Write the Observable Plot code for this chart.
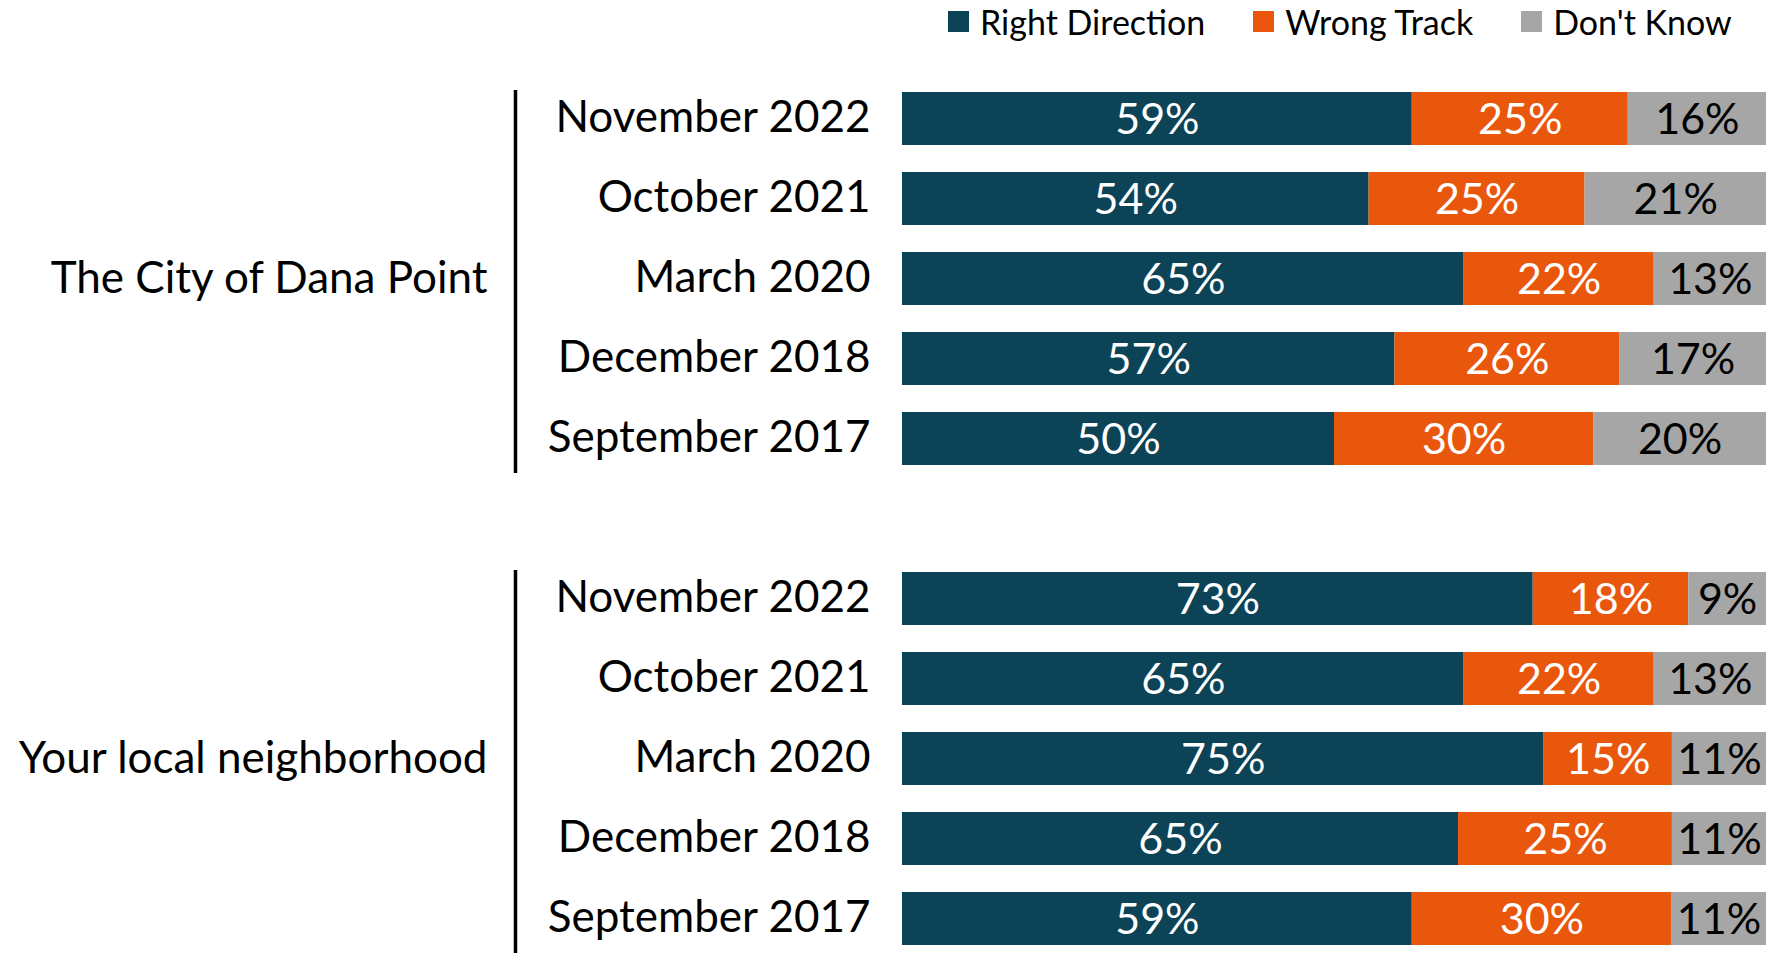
<!DOCTYPE html>
<html>
<head>
<meta charset="utf-8">
<script src="https://cdn.jsdelivr.net/npm/d3@7"></script>
<script src="https://cdn.jsdelivr.net/npm/@observablehq/plot@0.6"></script>
<style>
  html, body { margin: 0; padding: 0; background: #fff; overflow: hidden; }
  #legend { height: 46px; display: flex; align-items: center; padding-left: 948px; padding-bottom: 4px; box-sizing: border-box;
            font-family: Lato, "Liberation Sans", sans-serif; font-size: 34px; color: #000; white-space: nowrap; }
  #legend .item { display: flex; align-items: center; margin-right: 48px; flex-shrink: 0; }
  #legend .item:last-child { margin-right: 0; }
  #legend .sw { width: 21px; height: 21px; margin-right: 11px; flex-shrink: 0; }
  #chart svg { display: block; overflow: visible; }
</style>
</head>
<body>
<div id="legend"></div>
<div id="chart"></div>
<script>
// ---- data ----
const groups = ["The City of Dana Point", "Your local neighborhood"];
const waves = ["November 2022", "October 2021", "March 2020", "December 2018", "September 2017"];
const series = ["Right Direction", "Wrong Track", "Don't Know"];
const colors = ["#0C4356", "#E9570D", "#A6A6A6"];
const rightDirection = [[59, 54, 65, 57, 50], [73, 65, 75, 65, 59]];
const wrongTrack = [[25, 25, 22, 26, 30], [18, 22, 15, 25, 30]];
const dontKnow = [[16, 21, 13, 17, 20], [9, 13, 11, 11, 11]];

// ---- build table ----
const key = (gi, w) => gi + "|" + w;
const rows = [];
groups.forEach((g, gi) => {
  waves.forEach((w, wi) => {
    const vals = [rightDirection[gi][wi], wrongTrack[gi][wi], dontKnow[gi][wi]];
    series.forEach((s, si) => rows.push({key: key(gi, w), group: g, wave: w, series: s, value: vals[si]}));
  });
});
const yDomain = [...waves.map(w => key(0, w)), "gap", ...waves.map(w => key(1, w))];

// ---- legend ----
const legend = document.getElementById("legend");
series.forEach((s, i) => {
  const item = document.createElement("div");
  item.className = "item";
  const sw = document.createElement("span");
  sw.className = "sw";
  sw.style.background = colors[i];
  const lab = document.createElement("span");
  lab.textContent = s;
  item.append(sw, lab);
  legend.append(item);
});

// ---- chart ----
const font = "Lato, 'Liberation Sans', sans-serif";
const stackOpts = {x: "value", y: "key", offset: "normalize"};
const chart = Plot.plot({
  width: 1775,
  height: 907,
  marginLeft: 902,
  marginRight: 9,
  marginTop: 44,
  marginBottom: 7,
  style: {fontFamily: font, color: "#000", background: "#fff"},
  x: {axis: null, domain: [0, 1]},
  y: {domain: yDomain, paddingInner: 0.34, paddingOuter: 0, axis: null},
  color: {domain: series, range: colors},
  marks: [
    Plot.barX(rows, Plot.stackX({...stackOpts, fill: "series", z: "series"})),
    Plot.text(rows, Plot.stackX({...stackOpts, z: "series",
      text: d => d.series === "Don't Know" ? "" : d.value + "%",
      fill: "#fff", fontSize: 43, dy: 1})),
    Plot.text(rows, Plot.stackX({...stackOpts, z: "series",
      text: d => d.series === "Don't Know" ? d.value + "%" : "",
      fill: "#000", fontSize: 43, dy: 1})),
    Plot.axisY({tickSize: 0, tickPadding: 32, fontSize: 44, label: null, dy: -1,
      tickFormat: k => (k.split("|")[1] ?? "")}),
    Plot.text(groups, {y: (g, i) => key(i, waves[2]), x: 0, dx: -415,
      text: d => d, textAnchor: "end", fontSize: 44, fill: "#000"}),
    Plot.ruleX(groups, {x: 0, dx: -387,
      y1: (g, i) => key(i, waves[0]), y2: (g, i) => key(i, waves[4]),
      stroke: "#000", strokeWidth: 3.5, insetTop: -2, insetBottom: -8})
  ]
});
document.getElementById("chart").append(chart);
</script>
</body>
</html>
